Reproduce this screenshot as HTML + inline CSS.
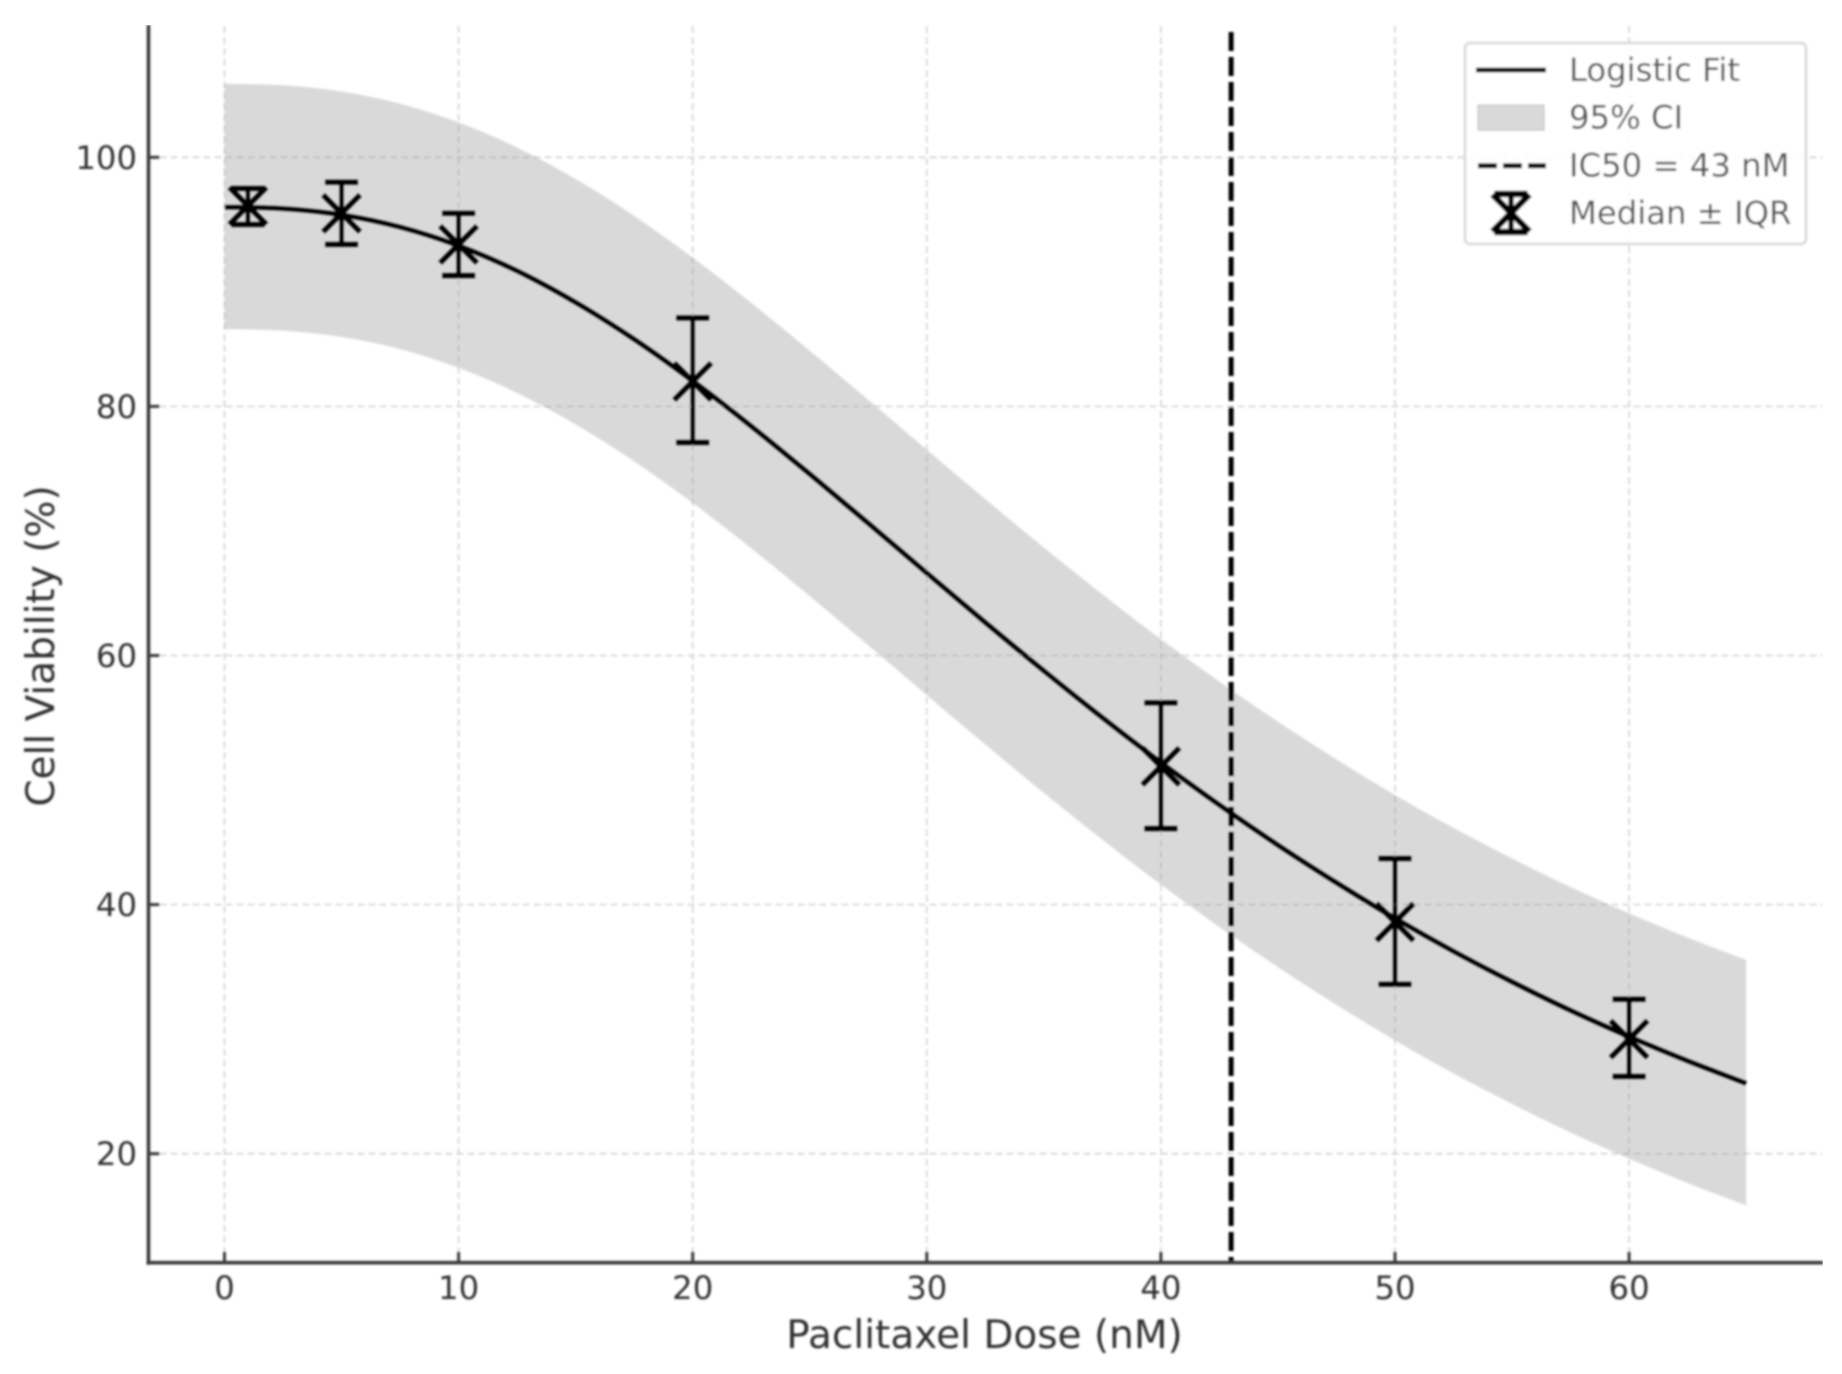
<!DOCTYPE html>
<html>
<head>
<meta charset="utf-8">
<title>Cell Viability vs Paclitaxel Dose</title>
<style>
html,body{margin:0;padding:0;background:#fff;width:1842px;height:1374px;overflow:hidden}
svg{display:block}
text{font-family:"DejaVu Sans","Liberation Sans",sans-serif}
</style>
</head>
<body>
<svg id="chart" width="1842" height="1374" viewBox="0 0 1842 1374" xmlns="http://www.w3.org/2000/svg">
<defs><filter id="soft" x="0" y="0" width="100%" height="100%"><feGaussianBlur stdDeviation="1"/></filter></defs>
<g id="root" filter="url(#soft)"></g>
</svg>
<script>
const xTicks = [0, 10, 20, 30, 40, 50, 60];
const yTicks = [20, 40, 60, 80, 100];
const fitDoses = [0, 2.5, 5, 7.5, 10, 12.5, 15, 17.5, 20, 22.5, 25, 27.5, 30, 32.5, 35, 37.5, 40, 42.5, 45, 47.5, 50, 52.5, 55, 57.5, 60, 62.5, 65];
const fitValues = [96.0, 95.88, 95.38, 94.4, 92.9, 90.88, 88.35, 85.39, 82.05, 78.41, 74.57, 70.62, 66.62, 62.65, 58.77, 55.01, 51.41, 48.0, 44.78, 41.76, 38.9, 36.25, 33.8, 31.5, 29.4, 27.45, 25.65];
const upperValues = [105.9, 105.78, 105.28, 104.3, 102.8, 100.78, 98.25, 95.29, 91.95, 88.31, 84.47, 80.52, 76.52, 72.55, 68.67, 64.91, 61.31, 57.9, 54.68, 51.66, 48.8, 46.15, 43.7, 41.4, 39.3, 37.35, 35.55];
const lowerValues = [86.2, 86.08, 85.58, 84.6, 83.1, 81.08, 78.55, 75.59, 72.25, 68.61, 64.77, 60.82, 56.82, 52.85, 48.97, 45.21, 41.61, 38.2, 34.98, 31.96, 29.1, 26.45, 24.0, 21.7, 19.6, 17.65, 15.85];
const medianDoses = [1, 5, 10, 20, 40, 50, 60];
const medianValues = [96.1, 95.5, 93.0, 82.0, 51.1, 38.6, 29.2];
const iqrLow = [94.6, 93.0, 90.5, 77.1, 46.1, 33.6, 26.2];
const iqrHigh = [97.5, 98.0, 95.5, 87.1, 56.2, 43.7, 32.4];
const ic50Dose = 43;
const legendLabels = ["Logistic Fit", "95% CI", "IC50 = 43 nM", "Median \u00b1 IQR"];

const NS = "http://www.w3.org/2000/svg";
const root = document.getElementById("root");
const plot = {left: 148.5, right: 1823, top: 26, bottom: 1262.7};
function xScale(v) { return 224.5 + v * 23.41; }
function yScale(v) { return 157.3 + (100 - v) * 12.455; }
function mk(tag, attrs, parent) {
  const el = document.createElementNS(NS, tag);
  for (const k in attrs) el.setAttribute(k, attrs[k]);
  (parent || root).appendChild(el);
  return el;
}
function smoothPath(pts, start) {
  let d = start ? (start + " " + pts[0][0] + " " + pts[0][1]) : "";
  for (let i = 0; i < pts.length - 1; i++) {
    const p0 = pts[Math.max(i - 1, 0)], p1 = pts[i], p2 = pts[i + 1], p3 = pts[Math.min(i + 2, pts.length - 1)];
    const c1x = p1[0] + (p2[0] - p0[0]) / 6, c1y = p1[1] + (p2[1] - p0[1]) / 6;
    const c2x = p2[0] - (p3[0] - p1[0]) / 6, c2y = p2[1] - (p3[1] - p1[1]) / 6;
    d += " C" + c1x + " " + c1y + " " + c2x + " " + c2y + " " + p2[0] + " " + p2[1];
  }
  return d;
}

/* grid */
xTicks.forEach(function (t) {
  const g = mk("line", {x1: xScale(t), x2: xScale(t), y1: plot.top, y2: plot.bottom, stroke: "#d8d8d8", "stroke-width": 1.8, "stroke-dasharray": "7 4"});
  
  
});
yTicks.forEach(function (t) {
  const g = mk("line", {x1: plot.left, x2: plot.right, y1: yScale(t), y2: yScale(t), stroke: "#d8d8d8", "stroke-width": 1.8, "stroke-dasharray": "7 4"});
  
  
});

/* CI band */
const upperPts = fitDoses.map(function (d, i) { return [xScale(d), yScale(upperValues[i])]; });
const lowerPts = fitDoses.map(function (d, i) { return [xScale(d), yScale(lowerValues[i])]; }).reverse();
const band = mk("path", {d: smoothPath(upperPts, "M") + " L" + lowerPts[0][0] + " " + lowerPts[0][1] + smoothPath(lowerPts, "") + " Z", fill: "#808080", "fill-opacity": 0.3});



/* fit */
const fitPts = fitDoses.map(function (d, i) { return [xScale(d), yScale(fitValues[i])]; });
const fit = mk("path", {d: smoothPath(fitPts, "M"), fill: "none", stroke: "#000", "stroke-width": 4.8});



/* IC50 */
const ic = mk("line", {x1: xScale(ic50Dose), x2: xScale(ic50Dose), y1: 32, y2: plot.bottom, stroke: "#000", "stroke-width": 5, "stroke-dasharray": "19 6"});



/* median + IQR */
function drawMarker(parent, cx, cy, yLo, yHi, extra) {
  const bump = extra || 0;
  mk("line", {x1: cx, x2: cx, y1: yLo, y2: yHi, stroke: "#000", "stroke-width": 4.4 + bump}, parent);
  mk("line", {x1: cx - 16.5, x2: cx + 16.5, y1: yLo, y2: yLo, stroke: "#000", "stroke-width": 5.4 + bump}, parent);
  mk("line", {x1: cx - 16.5, x2: cx + 16.5, y1: yHi, y2: yHi, stroke: "#000", "stroke-width": 5.4 + bump}, parent);
  mk("line", {x1: cx - 18.5, x2: cx + 18.5, y1: cy - 18.5, y2: cy + 18.5, stroke: "#000", "stroke-width": 5.4 + bump}, parent);
  mk("line", {x1: cx - 18.5, x2: cx + 18.5, y1: cy + 18.5, y2: cy - 18.5, stroke: "#000", "stroke-width": 5.4 + bump}, parent);
}
medianDoses.forEach(function (d, i) {
  const g = mk("g", {});
  
  
  drawMarker(g, xScale(d), yScale(medianValues[i]), yScale(iqrLow[i]), yScale(iqrHigh[i]));
});

/* spines */
const spineL = mk("line", {x1: plot.left, x2: plot.left, y1: 25, y2: plot.bottom + 2, stroke: "#3a3a3a", "stroke-width": 3.6});


const spineB = mk("line", {x1: plot.left - 2, x2: plot.right, y1: plot.bottom, y2: plot.bottom, stroke: "#3a3a3a", "stroke-width": 3.6});



/* ticks */
xTicks.forEach(function (t) {
  const m = mk("line", {x1: xScale(t), x2: xScale(t), y1: plot.bottom, y2: plot.bottom - 11, stroke: "#3a3a3a", "stroke-width": 3});
  
  
  const l = mk("text", {x: xScale(t), y: 1299, "text-anchor": "middle", "font-size": 32.3, fill: "#333"});
  
  
  l.textContent = t;
});
yTicks.forEach(function (t) {
  const m = mk("line", {x1: plot.left, x2: plot.left + 11, y1: yScale(t), y2: yScale(t), stroke: "#3a3a3a", "stroke-width": 3});
  
  
  const l = mk("text", {x: 137, y: yScale(t) + 11.5, "text-anchor": "end", "font-size": 32.3, fill: "#333"});
  
  
  l.textContent = t;
});

/* axis titles */
const xt = mk("text", {x: 984.5, y: 1348, "text-anchor": "middle", "font-size": 39, fill: "#333"});


xt.textContent = "Paclitaxel Dose (nM)";
const yt = mk("text", {x: 0, y: 0, transform: "translate(54 646) rotate(-90)", "text-anchor": "middle", "font-size": 39, fill: "#333"});


yt.textContent = "Cell Viability (%)";

/* legend */
const legend = mk("g", {});


mk("rect", {x: 1465, y: 43, width: 341, height: 201, rx: 5, fill: "#fff", "fill-opacity": 0.85, stroke: "#d8d8d8", "stroke-width": 2.6}, legend);
const rowY = [70, 117.7, 165.7, 213];
const h0 = mk("line", {x1: 1476, x2: 1546, y1: rowY[0], y2: rowY[0], stroke: "#000", "stroke-width": 4.8}, legend);


const h1 = mk("rect", {x: 1478, y: rowY[1] - 12.5, width: 66, height: 25, fill: "#808080", "fill-opacity": 0.3, stroke: "#808080", "stroke-opacity": 0.3, "stroke-width": 1.5}, legend);


const h2 = mk("line", {x1: 1478, x2: 1546, y1: rowY[2], y2: rowY[2], stroke: "#000", "stroke-width": 5, "stroke-dasharray": "19 6"}, legend);


const h3 = mk("g", {}, legend);


drawMarker(h3, 1511, rowY[3], rowY[3] + 19, rowY[3] - 19, 1);
legendLabels.forEach(function (t, i) {
  const l = mk("text", {x: 1569, y: rowY[i] + 11, "font-size": 32.3, fill: "#555"}, legend);
  
  
  l.textContent = t;
});
</script>
</body>
</html>
